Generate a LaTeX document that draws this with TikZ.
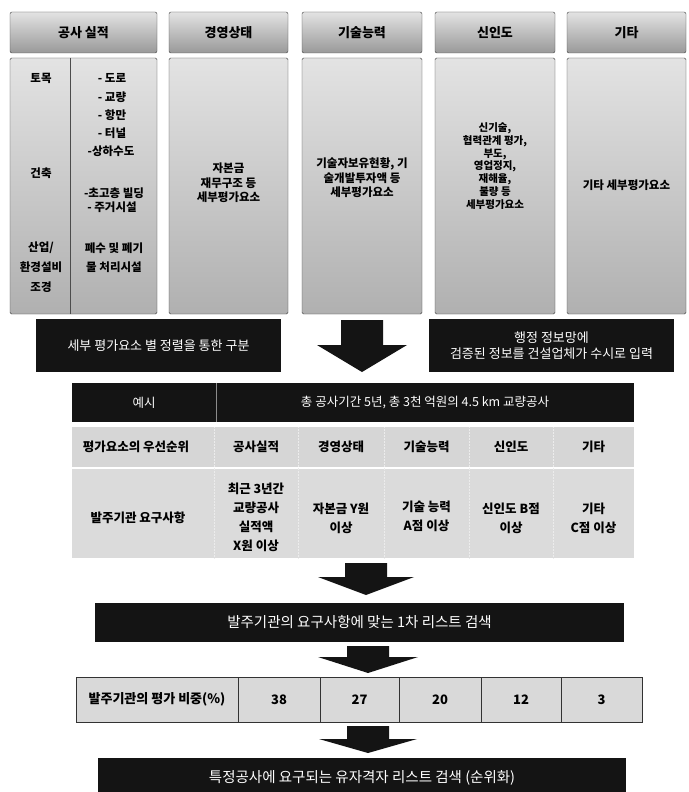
\documentclass[tikz,border=0pt]{standalone}
\usepackage{fontspec}
\setmainfont{Noto Sans CJK KR}
\newcommand\BlkArr[6]{% cx, top, headstart, tip, shafthalf, headhalf
  \fill[black!92] ({#1-#5},#2) -- ({#1+#5},#2) -- ({#1+#5},#3) -- ({#1+#6},#3) -- (#1,#4) -- ({#1-#6},#3) -- ({#1-#5},#3) -- cycle;}
\begin{document}
\begin{tikzpicture}[x=1pt,y=-1pt,
  hdr/.style={draw=black!75, rounded corners=2pt, top color=gray!22, middle color=gray!38, bottom color=gray!80, font=\bfseries\fontsize{13}{15}\selectfont, inner sep=0pt, minimum height=41pt},
  colbody/.style={draw=black!75, rounded corners=1.5pt, top color=gray!22, bottom color=gray!62, inner sep=0pt, minimum height=256pt},
  ctext/.style={font=\bfseries\fontsize{11.5}{14}\selectfont, align=center, inner sep=0pt, text=black},
  darkbar/.style={fill=black!92, inner sep=0pt, text=white, font=\fontsize{13}{15}\selectfont, align=center},
  ttext/.style={font=\bfseries\fontsize{12.5}{19}\selectfont, align=center, inner sep=0pt, text=black},
  t2cell/.style={draw=black!80, line width=0.6pt, fill=gray!30, inner sep=0pt, minimum height=45pt, font=\bfseries\fontsize{13}{15}\selectfont}
]
\useasboundingbox (0,0) rectangle (688,792);
\clip (0,0) rectangle (688,792);
\fill[white] (0,0) rectangle (688,792);

% ---------- top headers ----------
\node[hdr, minimum width=147pt] (h1) at (83.5,32.5) {공사 실적};
\node[hdr, minimum width=119pt] (h2) at (228.5,32.5) {경영상태};
\node[hdr, minimum width=120pt] (h3) at (362,32.5) {기술능력};
\node[hdr, minimum width=120pt] (h4) at (495,32.5) {신인도};
\node[hdr, minimum width=119pt] (h5) at (626.5,32.5) {기타};

% ---------- column bodies ----------
\node[colbody, minimum width=147pt] (b1) at (83.5,186) {};
\node[colbody, minimum width=119pt] (b2) at (228.5,186) {};
\node[colbody, minimum width=120pt] (b3) at (362,186) {};
\node[colbody, minimum width=120pt] (b4) at (495,186) {};
\node[colbody, minimum width=119pt] (b5) at (626.5,186) {};
\coordinate (d1t) at (70,58);
\coordinate (d1b) at (70,314);
\draw[black!70, line width=0.6pt] (d1t) -- (d1b);

% column 1 texts
\node[ctext] (c1a) at (41,78) {토목};
\node[ctext] (c1b) at (41,173) {건축};
\node[ctext] (c1c) at (41,248) {산업/};
\node[ctext] (c1d) at (41,267) {환경설비};
\node[ctext] (c1e) at (41,287) {조경};
\node[ctext] (r1) at (112,78) {- 도로};
\node[ctext] (r2) at (112,97) {- 교량};
\node[ctext] (r3) at (112,115) {- 항만};
\node[ctext] (r4) at (112,133) {- 터널};
\node[ctext] (r5) at (111,151) {-상하수도};
\node[ctext] (r6) at (114,193) {-초고층 빌딩};
\node[ctext] (r7) at (112,207) {- 주거시설};
\node[ctext] (r8) at (114,248) {폐수 및 폐기};
\node[ctext] (r9) at (114,267) {물 처리시설};

% other column texts
\node[ctext, font=\bfseries\fontsize{11.5}{14.5}\selectfont] (t2) at (228.5,183) {자본금\\재무구조 등\\세부평가요소};
\node[ctext, font=\bfseries\fontsize{11.5}{14.5}\selectfont] (t3) at (362,178) {기술자보유현황, 기\\술개발투자액 등\\세부평가요소};
\node[ctext, font=\bfseries\fontsize{10.5}{12.8}\selectfont] (t4) at (495,166) {신기술,\\협력관계 평가,\\부도,\\영업정지,\\재해율,\\불량 등\\세부평가요소};
\node[ctext] (t5) at (626.5,185) {기타 세부평가요소};

% ---------- second row ----------
\node[darkbar, minimum width=245pt, minimum height=53pt] (lbox) at (158.5,345.5) {세부 평가요소 별 정렬을 통한 구분};
\node[darkbar, minimum width=245pt, minimum height=53pt, font=\fontsize{13}{15.5}\selectfont] (rbox) at (551.5,345.5) {행정 정보망에\\검증된 정보를 건설업체가 수시로 입력};
\BlkArr{362}{320}{345}{372}{21}{45}

% ---------- example bar ----------
\node[darkbar, minimum width=562pt, minimum height=39pt] (ex) at (353,402.5) {};
\coordinate (exdt) at (216,383);
\coordinate (exdb) at (216,422);
\draw[white!55!black, line width=0.6pt] (exdt) -- (exdb);
\node[text=white, font=\fontsize{12.5}{15}\selectfont, inner sep=0pt] (exl) at (144,403) {예시};
\node[text=white, font=\fontsize{12.5}{15}\selectfont, inner sep=0pt] (exr) at (425,403) {총 공사기간 5년, 총 3천 억원의 4.5 km 교량공사};

% ---------- grey table ----------
\fill[gray!32] (72,427) rectangle (634,467);
\fill[gray!28] (72,469) rectangle (634,558);
\foreach \xx in {214,298,384,469,553}{
  \draw[white!85!gray, line width=0.5pt, densely dotted] (\xx,427) -- (\xx,558);
}
\node[ttext] (th0) at (136,447) {평가요소의 우선순위};
\node[ttext] (th1) at (256,447) {공사실적};
\node[ttext] (th2) at (341,447) {경영상태};
\node[ttext] (th3) at (426.5,447) {기술능력};
\node[ttext] (th4) at (511,447) {신인도};
\node[ttext] (th5) at (593.5,447) {기타};
\node[ttext] (tr0) at (138,518) {발주기관 요구사항};
\node[ttext] (tr1) at (256,517.5) {최근 3년간\\교량공사\\실적액\\X원 이상};
\node[ttext] (tr2) at (341,518) {자본금 Y원\\이상};
\node[ttext] (tr3) at (426.5,516) {기술 능력\\A점 이상};
\node[ttext] (tr4) at (511,518) {신인도 B점\\이상};
\node[ttext] (tr5) at (593.5,518) {기타\\C점 이상};

\BlkArr{366}{563}{577}{595}{21}{48}

% ---------- bar 2 ----------
\node[darkbar, minimum width=529pt, minimum height=39pt, font=\fontsize{14.5}{16}\selectfont] (bar2) at (359.5,622.5) {발주기관의 요구사항에 맞는 1차 리스트 검색};

\BlkArr{368}{646}{657}{673}{21}{50}

% ---------- weight table ----------
\node[t2cell, minimum width=162pt] (w0) at (157,699.5) {발주기관의 평가 비중(\%)};
\node[t2cell, minimum width=82pt] (w1) at (279,699.5) {38};
\node[t2cell, minimum width=79pt] (w2) at (359.5,699.5) {27};
\node[t2cell, minimum width=82pt] (w3) at (440,699.5) {20};
\node[t2cell, minimum width=80pt] (w4) at (521,699.5) {12};
\node[t2cell, minimum width=81pt] (w5) at (601.5,699.5) {3};

\BlkArr{368}{726}{739}{753}{21}{49}

% ---------- bar 3 ----------
\node[darkbar, minimum width=528pt, minimum height=39pt, font=\fontsize{14.5}{16}\selectfont] (bar3) at (362,777.5) {특정공사에 요구되는 유자격자 리스트 검색 (순위화)};
\end{tikzpicture}
\end{document}
